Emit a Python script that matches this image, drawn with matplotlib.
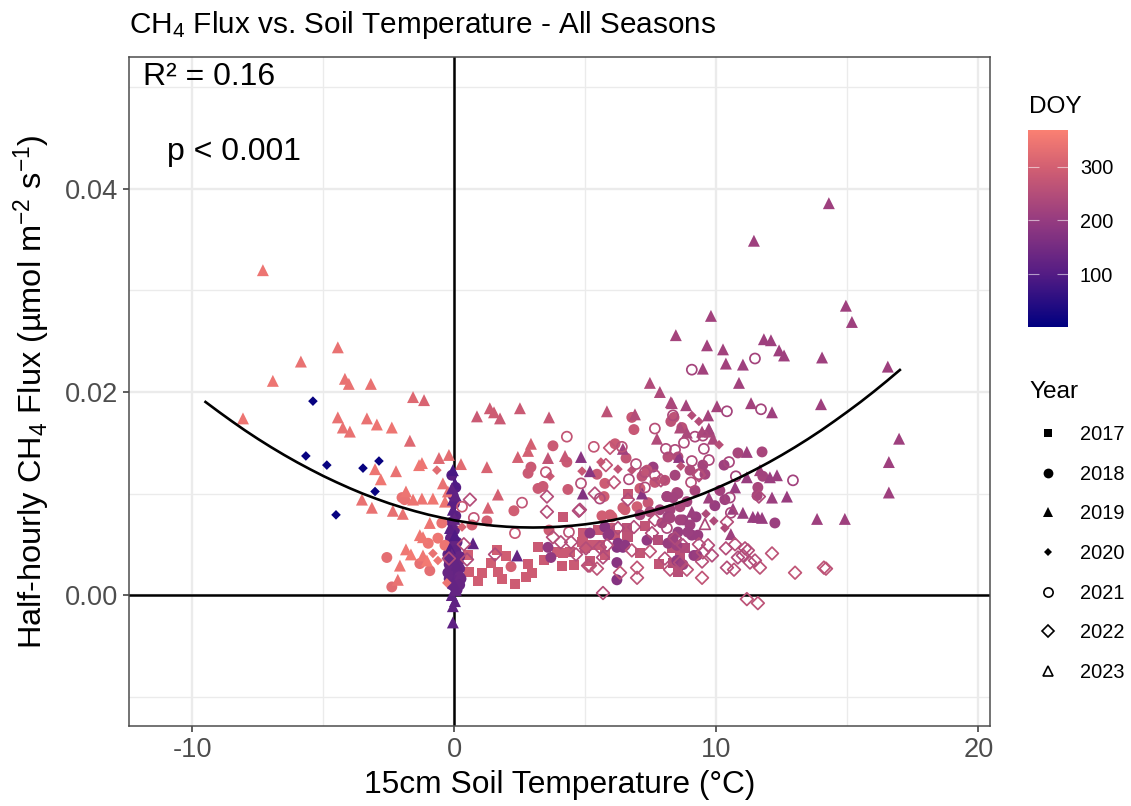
import matplotlib
matplotlib.use("Agg")
import matplotlib.pyplot as plt
from matplotlib.cm import ScalarMappable
from matplotlib.colors import LinearSegmentedColormap, Normalize
from matplotlib.lines import Line2D

plt.rcParams["font.family"] = ["Liberation Sans", "DejaVu Sans"]
plt.rcParams["mathtext.fontset"] = "custom"
plt.rcParams["mathtext.rm"] = "Liberation Sans"
plt.rcParams["mathtext.default"] = "regular"
plt.rcParams["axes.unicode_minus"] = False

temp_2017 = [0.55, 1.05, 0.90, 1.39, 1.62, 1.97, 1.66, 1.81, 2.31, 2.81, 2.96, 2.73, 3.19, 3.42, 4.14, 4.10, 4.56, 3.91,
             4.14, 4.41, 4.90, 4.87, 4.98, 0.52, 4.90, 5.17, 6.58, 7.27, 7.08, 7.81, 6.62, 8.30, 8.61, 5.48, 5.94, 6.13,
             5.55, 5.74, 6.58, 6.62, 8.34, 8.53, 5.17, 7.77, 8.80]
flux_2017 = [.0023, .0022, .0014, .0032, .0044, .0038, .0023, .0016, .0011, .0031, .0022, .0018, .0047, .0035, .0077,
             .0029, .0030, .0042, .0041, .0042, .0061, .0052, .0046, .0039, .0057, .0049, .0059, .0068, .0041, .0031,
             .0100, .0046, .0039, .0064, .0066, .0059, .0049, .0039, .0066, .0057, .0032, .0023, .0034, .0054, .0046]
doy_2017 = [295, 295, 295, 295, 295, 295, 295, 295, 290, 290, 290, 290, 285, 285, 280, 285, 285, 285, 285, 285, 280, 280,
            280, 295, 280, 280, 275, 270, 275, 270, 275, 260, 260, 280, 275, 275, 280, 280, 260, 265, 250, 255, 275, 250,
            245]

temp_2018 = [-2.58, -2.39, -1.32, -0.94, 3.76, 2.92, 2.81, 3.19, 3.38, 4.33, 4.29, 2.27, 1.24, 3.57, 3.68, 2.16, 0.67,
             3.61, 6.85, 6.77, 6.13, 6.55, 5.44, 8.26, 8.38, 8.68, 7.58, 7.16, 7.35, 7.39, 8.42, 8.15, 8.53, 9.48, 9.56,
             10.29, 10.82, 11.74, 11.77, 11.58, 11.55, 8.49, 8.11, 8.87, 8.61, 8.23, 8.15, 8.72, 9.22, 9.94, 12.23, 5.74,
             5.71, 5.63, 6.01, 6.51, 6.97, 5.74, 5.17, 5.90, 6.20, 6.43, 6.20, 6.20, 7.35, 9.29, 9.06, 9.14, 8.49, 8.15,
             8.53, 7.92,
             5.94, 6.43, 8.11, 8.53, 8.34, 8.23, 8.61, 8.99, 8.34, 8.91, 9.26, 6.24, 6.51, 5.86, 8.49, 8.72, 7.08, 7.65,
             8.03, 8.99, 9.18, 10.13, 10.32, 7.08, 7.46, 7.84,
             -0.10, 0.05, -0.05, 0.00, 0.05, -0.10, 0.00, -0.15, 0.10, -0.20, 0.05, -0.25, 0.20, -0.10, 0.15, -0.20, 0.00,
             0.20, -0.15, 0.10, -0.05, 0.20, -0.20, 0.05, 0.15, -0.10, 0.00, 0.10, -0.25, 0.25, -0.20, 0.20,
             -2.00, -1.90, -1.00, -0.63, -0.36, -0.48]
flux_2018 = [.0037, .0008, .0031, .0024, .0147, .0126, .0120, .0105, .0107, .0104, .0131, .0083, .0073, .0047, .0037,
             .0028, .0069, .0064, .0163, .0175, .0149, .0135, .0119, .0171, .0175, .0165, .0126, .0117, .0123, .0091,
             .0118, .0136, .0136, .0128, .0119, .0128, .0140, .0141, .0117, .0106, .0098, .0101, .0097, .0092, .0087,
             .0084, .0077, .0074, .0077, .0088, .0071, .0110, .0097, .0078, .0077, .0084, .0087, .0067, .0061, .0060,
             .0047, .0047, .0032, .0015, .0054, .0059, .0059, .0039, .0034, .0051, .0062, .0071,
             .0079, .0086, .0097, .0100, .0096, .0076, .0074, .0069, .0056, .0062, .0039, .0051, .0049, .0059, .0049,
             .0030, .0105, .0111, .0113, .0123, .0103, .0103, .0094, .0079, .0082, .0084,
             .0118, .0106, .0098, .0090, .0078, .0072, .0064, .0056, .0052, .0047, .0044, .0040, .0038, .0035, .0032,
             .0030, .0028, .0026, .0024, .0022, .0020, .0018, .0016, .0014, .0012, .0010, .0008, .0005, .0022, .0016,
             .0034, .0010,
             .0096, .0094, .0051, .0056, .0049, .0071]
doy_2018 = [330, 325, 335, 330, 285, 285, 285, 285, 285, 285, 285, 295, 300, 195, 190, 300, 305, 290, 280, 280, 285, 275,
            280, 265, 265, 260, 210, 265, 270, 280, 225, 255, 250, 225, 225, 215, 230, 230, 225, 230, 230, 240, 215, 225,
            235, 225, 215, 210, 205, 205, 210, 290, 290, 295, 295, 295, 295, 180, 190, 185, 175, 180, 180, 175, 195, 205,
            205, 200, 200, 205, 205, 225,
            295, 290, 220, 225, 220, 225, 220, 215, 215, 210, 205, 180, 185, 190, 215, 215, 285, 275, 260, 240, 230, 220,
            215, 230, 240, 225,
            110, 105, 115, 115, 115, 115, 120, 120, 125, 125, 120, 125, 130, 125, 130, 130, 125, 135, 130, 130, 125, 135,
            130, 130, 135, 130, 125, 130, 130, 135, 125, 130,
            340, 340, 345, 345, 345, 340]

temp_2019 = [-7.31, -5.86, -6.93, -8.07, -4.45, -4.18, -4.03, -3.19, -4.45, -4.26, -3.99, -3.34, -2.96, -2.39, -1.58,
             -1.16, -1.70, -3.03, -2.23, -2.81, -1.35, -1.24, -0.59, -0.21, 0.25, 1.24, 2.42, 2.92, 2.81, 1.66, 1.28,
             -1.85, -1.24, -0.82, -1.58, -2.35, -1.97, -3.15, -3.53, -0.94, -1.32, -1.20, -1.85, -1.66, -1.20, -1.05,
             -2.08, -2.16, -0.44, -0.25, -0.36,
             -0.06, 0.02, -0.06, -0.06, -0.17, 0.02, -0.17, 0.71, 2.39, -0.10, 0.02, -0.06, -0.06, -0.10, 0.05, 0.00,
             -0.10, 0.10, -0.05, 0.05,
             6.89, 8.30, 8.84, 10.02, 11.32, 12.12, 9.68, 7.73, 8.87, 9.45, 9.75, 9.87, 6.43, 4.83, 8.57, 5.17, 11.16,
             12.31, 12.04, 11.16, 10.71, 11.66, 4.90, 7.16, 12.12, 12.69, 9.71, 10.63, 9.06, 11.01, 11.39, 11.58, 11.74,
             10.55, 13.99, 16.97, 16.58, 16.58, 13.84, 14.90, 14.29, 11.43, 14.94, 15.17, 9.79, 8.45, 9.64, 10.25, 10.36,
             11.01, 9.48, 11.81, 12.08, 12.39, 12.58, 14.03, 16.54, 10.86, 7.46, 7.84, 8.26, 8.61, 9.71,
             0.86, 1.35, 1.51, 1.74, 2.50, 3.61, 3.57, 5.82, 4.22]
flux_2019 = [.0320, .0230, .0211, .0174, .0244, .0213, .0208, .0208, .0175, .0165, .0161, .0174, .0168, .0165, .0195,
             .0192, .0152, .0124, .0122, .0114, .0128, .0130, .0135, .0138, .0129, .0126, .0136, .0149, .0142, .0099,
             .0086, .0102, .0095, .0095, .0094, .0083, .0080, .0086, .0094, .0071, .0059, .0057, .0045, .0040, .0039,
             .0034, .0029, .0015, .0110, .0102, .0092,
             .0123, .0110, .0094, .0084, .0066, .0059, .0046, .0051, .0039, .0000, -.0006, -.0011, -.0027, .0105, .0098,
             .0075, .0040, .0030, .0012, .0005,
             .0178, .0189, .0187, .0186, .0189, .0180, .0177, .0154, .0160, .0161, .0161, .0154, .0144, .0136, .0136,
             .0122, .0141, .0118, .0116, .0116, .0106, .0123, .0100, .0100, .0096, .0097, .0096, .0085, .0082, .0081,
             .0077, .0077, .0076, .0060, .0188, .0154, .0131, .0101, .0075, .0075, .0386, .0349, .0285, .0269, .0275,
             .0256, .0246, .0242, .0228, .0227, .0223, .0252, .0251, .0241, .0236, .0234, .0225, .0209, .0209, .0200,
             .0190, .0165, .0164,
             .0176, .0184, .0180, .0174, .0184, .0175, .0135, .0181, .0137]
doy_2019 = [345, 340, 345, 345, 340, 340, 340, 340, 340, 340, 340, 340, 345, 345, 320, 310, 320, 345, 340, 350, 350, 345,
            320, 330, 325, 310, 300, 300, 300, 300, 305, 345, 345, 350, 345, 335, 340, 340, 340, 345, 350, 350, 350, 355,
            350, 355, 345, 340, 340, 340, 345,
            85, 95, 110, 110, 110, 95, 100, 115, 125, 115, 115, 120, 115, 120, 120, 125, 125, 125, 125, 125,
            250, 230, 225, 225, 220, 215, 225, 245, 235, 235, 235, 235, 220, 180, 190, 180, 215, 210, 210, 205, 205, 220,
            170, 180, 210, 205, 215, 210, 210, 205, 205, 205, 205, 215, 215, 215, 215, 215, 215, 215, 215, 215, 215, 215,
            220, 225, 220, 220, 220, 215, 220, 215, 215, 215, 215, 215, 215, 220, 245, 240, 235, 240, 225,
            285, 290, 290, 285, 285, 280, 270, 265, 280]

temp_2020 = [-5.40, -5.67, -4.87, -3.49, -2.88, -3.03, -4.52, -0.82, -0.63, 0.29, -0.67, -0.29, 4.87, 9.06, 9.33, 5.59,
             6.24, 8.64, 10.10, 9.60, 9.90, 10.32, 3.65, 6.77]
flux_2020 = [.0191, .0137, .0128, .0125, .0132, .0102, .0079, .0041, .0034, .0067, .0123, .0012, .0122, .0177, .0171,
             .0131, .0124, .0127, .0148, .0080, .0073, .0066, .0117, .0123]
doy_2020 = [10, 10, 10, 10, 10, 10, 10, 340, 345, 310, 325, 345, 280, 250, 250, 285, 270, 260, 255, 240, 240, 240, 285,
            265]

temp_2021 = [4.29, 3.49, 4.83, 2.58, 0.29, 0.74, 2.31, 4.37, 5.32, 6.39, 7.65, 8.34, 10.40, 11.70, 8.76, 9.18, 9.48, 9.52,
             8.07, 8.42, 9.06, 9.71, 6.93, 6.66, 7.27, 7.65, 7.27, 9.03, 9.33, 10.48, 10.74, 12.92, 10.51, 10.55, 5.55,
             8.11, 9.06, 11.47]
flux_2021 = [.0156, .0121, .0110, .0091, .0087, .0076, .0061, .0062, .0146, .0146, .0164, .0177, .0181, .0183, .0150,
             .0156, .0157, .0144, .0144, .0143, .0132, .0133, .0129, .0114, .0121, .0118, .0106, .0111, .0119, .0131,
             .0117, .0113, .0096, .0081, .0095, .0066, .0222, .0233]
doy_2021 = [275, 270, 255, 270, 285, 270, 280, 265, 275, 260, 255, 240, 225, 225, 240, 235, 235, 235, 240, 240, 240, 235,
            250, 240, 250, 250, 245, 250, 245, 230, 225, 220, 225, 230, 240, 235, 225, 225]

temp_2022 = [0.59, 0.36, 0.48, -0.21, 1.55, 3.53, 3.53, 4.75, 3.76, 4.06, 4.45, 4.64, 5.10, 5.94, 5.78, 6.09, 5.36, 6.62,
             7.88, 9.33, 11.62, 6.24, 6.85, 7.54, 7.65, 10.40, 10.71, 10.36, 9.68, 9.33, 9.83, 9.48, 9.45, 8.87, 9.45,
             8.03, 8.23, 8.61, 8.72, 8.42, 6.97, 6.97, 6.32, 6.77, 7.46, 5.17, 5.44, 5.82, 5.55, 5.02, 5.67, 5.67, 12.12,
             13.00, 11.58, 11.16, 10.40, 10.67, 10.82, 11.09, 11.20, 11.28, 11.66, 11.47, 11.01, 14.10, 14.18, 4.79]
flux_2022 = [.0094, .0050, .0035, .0036, .0040, .0097, .0082, .0083, .0057, .0052, .0052, .0040, .0029, .0145, .0128,
             .0111, .0100, .0094, .0113, .0118, .0097, .0066, .0067, .0061, .0074, .0072, .0050, .0046, .0049, .0050,
             .0039, .0042, .0033, .0025, .0017, .0036, .0025, .0032, .0049, .0056, .0027, .0017, .0022, .0044, .0043,
             .0029, .0026, .0049, .0047, .0046, .0037, .0002, .0041, .0022, -.0008, -.0004, .0027, .0025, .0037, .0046,
             .0044, .0032, .0027, .0034, .0039, .0027, .0026, .0084]
doy_2022 = [250, 250, 240, 240, 245, 250, 250, 245, 250, 250, 250, 250, 255, 275, 270, 265, 250, 245, 250, 250, 240, 240,
            245, 245, 250, 250, 255, 250, 250, 250, 245, 250, 255, 265, 270, 250, 260, 250, 240, 240, 270, 265, 265, 260,
            265, 265, 265, 245, 250, 250, 245, 250, 265, 270, 265, 265, 250, 260, 245, 250, 250, 250, 265, 250, 245, 265,
            265, 245]

temp_2023 = [9.56]
flux_2023 = [.0070]
doy_2023 = [235]

fit_temp = [-9.5, -9, -8.5, -8, -7.5, -7, -6.5, -6, -5.5, -5, -4.5, -4, -3.5, -3, -2.5, -2, -1.5, -1, -0.5, 0, 0.5, 1,
            1.5, 2, 2.5, 3, 3.5, 4, 4.5, 5, 5.5, 6, 6.5, 7, 7.5, 8, 8.5, 9, 9.5, 10, 10.5, 11, 11.5, 12, 12.5, 13, 13.5,
            14, 14.5, 15, 15.5, 16, 16.5, 17]
fit_flux = [.01902, .01806, .01713, .01623, .01538, .01457, .01380, .01307, .01238, .01172, .01111, .01053, .00999,
            .00950, .00904, .00863, .00826, .00792, .00763, .00736, .00715, .00697, .00683, .00673, .00667, .00665,
            .00667, .00673, .00683, .00697, .00715, .00736, .00763, .00792, .00826, .00863, .00904, .00950, .00999,
            .01053, .01111, .01172, .01238, .01307, .01380, .01457, .01538, .01623, .01713, .01806, .01902, .02003,
            .02108, .02217]

series = [
    ("2017", temp_2017, flux_2017, doy_2017, "s", 52, True),
    ("2018", temp_2018, flux_2018, doy_2018, "o", 62, True),
    ("2019", temp_2019, flux_2019, doy_2019, "^", 74, True),
    ("2020", temp_2020, flux_2020, doy_2020, "D", 24, True),
    ("2021", temp_2021, flux_2021, doy_2021, "o", 52, False),
    ("2022", temp_2022, flux_2022, doy_2022, "D", 42, False),
    ("2023", temp_2023, flux_2023, doy_2023, "^", 60, False),
]

W, H = 1131, 806
fig = plt.figure(figsize=(W / 100, H / 100), dpi=100)
ax = fig.add_axes([129 / W, 1 - 726 / H, 861 / W, 669 / H])

cmap = LinearSegmentedColormap.from_list(
    "doy",
    [(0.0, "#000080"), (0.27, "#541c84"), (0.54, "#953b80"), (0.81, "#d25f72"), (1.0, "#fa8072")],
)
norm = Normalize(1, 369)

ax.set_xlim(-12.42, 20.44)
ax.set_ylim(-0.0129, 0.053)
ax.set_xticks([-10, 0, 10, 20])
ax.set_xticks([-5, 5, 15], minor=True)
ax.set_yticks([0, 0.02, 0.04])
ax.set_yticks([-0.01, 0.01, 0.03, 0.05], minor=True)
ax.set_yticklabels(["0.00", "0.02", "0.04"])
ax.set_axisbelow(True)
ax.grid(True, which="major", color="#ebebeb", linewidth=1.7)
ax.grid(True, which="minor", color="#ebebeb", linewidth=0.95)
ax.tick_params(which="minor", length=0)
ax.tick_params(which="major", length=4, width=1.1, color="#333333", labelcolor="#4d4d4d", labelsize=19.6, pad=4)
for spine in ax.spines.values():
    spine.set_color("#4d4d4d")
    spine.set_linewidth(1.1)

ax.axhline(0, color="black", linewidth=1.8, zorder=1.5)
ax.axvline(0, color="black", linewidth=1.8, zorder=1.5)

handles = []
for year, temp, flux, doy, marker, size, filled in series:
    colors = cmap(norm(doy))
    if filled:
        ax.scatter(temp, flux, s=size, marker=marker, color=colors, linewidths=0, zorder=2)
    else:
        ax.scatter(temp, flux, s=size, marker=marker, facecolors="none", edgecolors=colors, linewidths=1.25, zorder=2)
    legend_size = size * 0.8 if filled else size * 0.85
    handles.append(
        Line2D(
            [], [], linestyle="none", marker=marker, markersize=legend_size**0.5,
            markerfacecolor="black" if filled else "none", markeredgecolor="black",
            markeredgewidth=0 if filled else 1.2, label=year,
        )
    )

ax.plot(fit_temp, fit_flux, color="black", linewidth=1.9, zorder=3)

ax.text(-9.37, 0.0510, "R² = 0.16", fontsize=23, ha="center", va="center", color="black")
ax.text(-8.4, 0.0436, "p < 0.001", fontsize=23, ha="center", va="center", color="black")

ax.set_title("CH$_4$ Flux vs. Soil Temperature - All Seasons", loc="left", fontsize=21.4, pad=17)
ax.set_xlabel("15cm Soil Temperature (°C)", fontsize=22.9, labelpad=5)
ax.set_ylabel("Half-hourly CH$_4$ Flux (µmol m$^{-2}$ s$^{-1}$)", fontsize=23.4, labelpad=8)

cax = fig.add_axes([1028 / W, 1 - 327 / H, 40 / W, 197 / H])
cbar = fig.colorbar(ScalarMappable(norm=norm, cmap=cmap), cax=cax)
cbar.set_ticks([100, 200, 300])
cbar.outline.set_visible(False)
cax.tick_params(left=True, right=True, direction="in", length=8, width=0.8, color="#ffffff90",
                labelsize=14.4, labelcolor="black", pad=8.6)
fig.text(1029 / W, 1 - 107 / H, "DOY", fontsize=17.6, ha="left", va="center")

legend = fig.legend(
    handles=handles,
    title="Year",
    loc="upper left",
    bbox_to_anchor=(1029 / W, 1 - 381 / H),
    bbox_transform=fig.transFigure,
    frameon=False,
    borderaxespad=0,
    borderpad=0,
    fontsize=14.4,
    title_fontsize=17.6,
    alignment="left",
    handlelength=1.9,
    handletextpad=0.65,
    labelspacing=1.03,
)
legend._legend_box.sep = 16

fig.savefig("out.png", dpi=100)
plt.close(fig)
